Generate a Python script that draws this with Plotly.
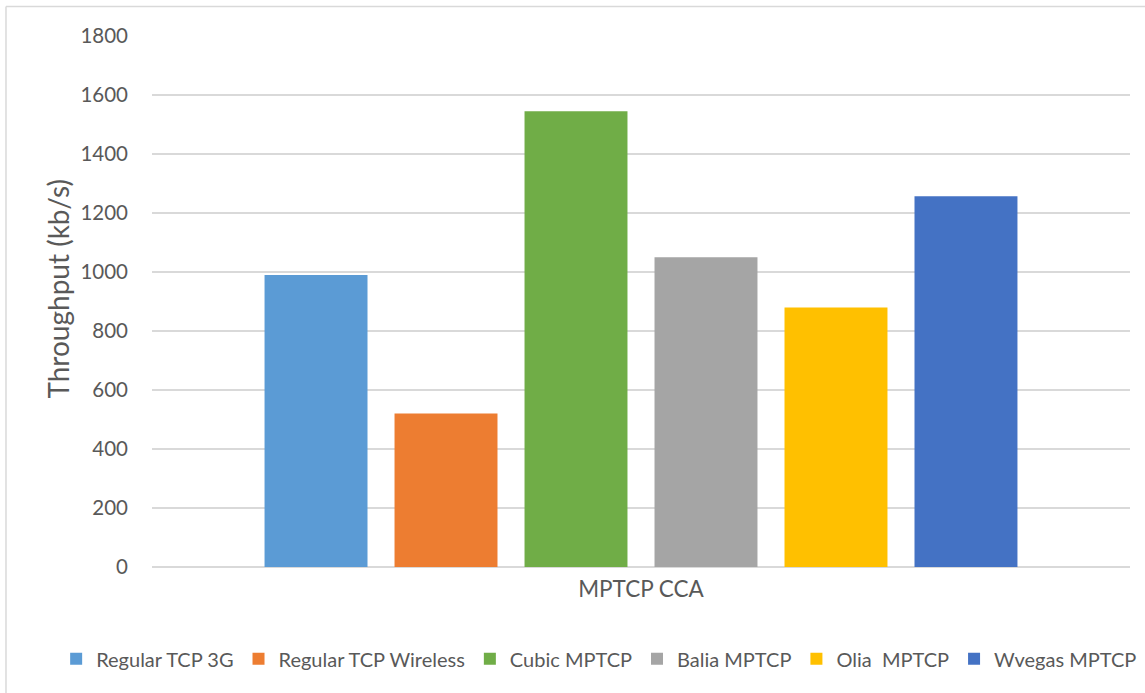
import plotly.graph_objects as go

# Throughput per congestion-control algorithm
category = ["MPTCP CCA"]
series_names = [
    "Regular TCP 3G",
    "Regular TCP Wireless",
    "Cubic MPTCP",
    "Balia MPTCP",
    "Olia  MPTCP",
    "Wvegas MPTCP",
]
throughput = [990, 520, 1545, 1050, 880, 1257]
colors = ["#5b9bd5", "#ed7d31", "#70ad47", "#a5a5a5", "#ffc000", "#4472c4"]

y_ticks = list(range(0, 1801, 200))
y_title = "Throughput (kb/s)"

FONT = "Lato, Calibri, Carlito, sans-serif"
TEXT_COLOR = "#595959"
GRID = "#d9d9d9"

fig = go.Figure()
for name, val, col in zip(series_names, throughput, colors):
    fig.add_trace(go.Bar(
        x=category, y=[val], name=name,
        marker=dict(color=col, line=dict(width=0)),
    ))

fig.update_layout(
    width=1145, height=693,
    margin=dict(l=152, r=15, t=36, b=126, autoexpand=False),
    paper_bgcolor="white", plot_bgcolor="white",
    barmode="group",
    bargap=0.2025,
    bargroupgap=0.208,
    font=dict(family=FONT, color=TEXT_COLOR, size=20),
    showlegend=True,
    legend=dict(
        orientation="h",
        x=-0.098, xanchor="left",
        y=-0.173, yanchor="middle",
        font=dict(size=20, color=TEXT_COLOR),
        itemwidth=30,
        tracegroupgap=0,
        traceorder="normal",
    ),
    xaxis=dict(
        type="category",
        showgrid=False,
        showline=False,
        ticks="",
        tickfont=dict(size=22.5, color=TEXT_COLOR),
        ticklabelstandoff=6,
    ),
    yaxis=dict(
        range=[0, 1800],
        tickvals=y_ticks,
        showgrid=True, gridcolor=GRID, gridwidth=1.5,
        zeroline=True, zerolinecolor=GRID, zerolinewidth=1.5,
        showline=False,
        ticks="",
        tickfont=dict(size=20.5, color=TEXT_COLOR),
        ticklabelstandoff=23,
    ),
    annotations=[
        # vertical y-axis title, sitting slightly above the plot's midline
        dict(text=y_title, textangle=-90, showarrow=False,
             xref="paper", yref="paper", x=-0.0966, y=0.5235,
             xanchor="center", yanchor="middle",
             font=dict(size=28, color=TEXT_COLOR)),
    ],
    shapes=[
        # chart frame (left and top edges)
        dict(type="line", xref="paper", yref="paper",
             x0=-0.1493, x1=1.05, y0=1.0556, y1=1.0556,
             line=dict(color=GRID, width=1.5)),
        dict(type="line", xref="paper", yref="paper",
             x0=-0.1493, x1=-0.1493, y0=1.0556, y1=-0.3,
             line=dict(color=GRID, width=1.5)),
    ],
)

fig.write_html("out.html")
